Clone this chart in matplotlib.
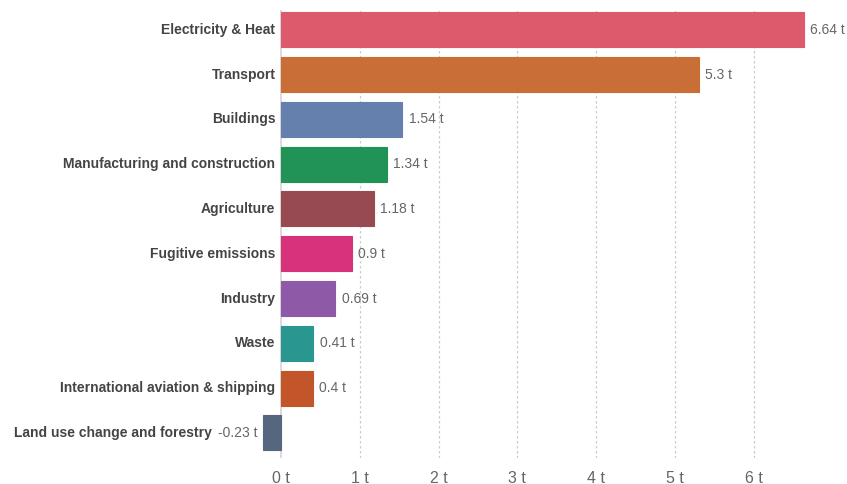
import matplotlib
matplotlib.use("Agg")
import matplotlib.pyplot as plt

sectors = [
    "Electricity & Heat",
    "Transport",
    "Buildings",
    "Manufacturing and construction",
    "Agriculture",
    "Fugitive emissions",
    "Industry",
    "Waste",
    "International aviation & shipping",
    "Land use change and forestry",
]
values = [6.64, 5.3, 1.54, 1.34, 1.18, 0.9, 0.69, 0.41, 0.4, -0.23]
value_labels = ["6.64 t", "5.3 t", "1.54 t", "1.34 t", "1.18 t", "0.9 t", "0.69 t", "0.41 t", "0.4 t", "-0.23 t"]
colors = ["#dc5a6b", "#c96e36", "#6580ac", "#229357", "#984a52",
          "#d7337c", "#8e5aa8", "#29968f", "#c3552a", "#56667f"]
xticks = [0, 1, 2, 3, 4, 5, 6]
xtick_labels = ["0 t", "1 t", "2 t", "3 t", "4 t", "5 t", "6 t"]

plt.rcParams["font.family"] = ["Liberation Sans", "DejaVu Sans"]

fig = plt.figure(figsize=(8.47, 4.84), dpi=100)
ax = fig.add_axes([0.3039, 0.0537, 0.679, 0.9256])

ypos = list(range(len(sectors)))
ax.barh(ypos, values, height=0.78, color=colors, edgecolor=colors, linewidth=0.8, zorder=3)

ax.set_xlim(-0.3, 7.0)
ax.set_ylim(9.56, -0.44)
ax.set_xticks(xticks)
ax.set_xticklabels(xtick_labels, fontsize=11.5, color="#666666")
ax.set_yticks([])
ax.tick_params(axis="x", length=0, pad=9)
for s in ax.spines.values():
    s.set_visible(False)

for t in xticks[1:]:
    ax.axvline(t, color="#cccccc", linestyle=(0, (2, 2)), linewidth=0.9, zorder=1)
ax.axvline(0, color="#d5d5d5", linewidth=1.2, zorder=2)

fig.canvas.draw()
renderer = fig.canvas.get_renderer()

fs = 10
for y, v, lab, name in zip(ypos, values, value_labels, sectors):
    if v >= 0:
        ax.annotate(lab, (v, y), xytext=(4.5, 0), textcoords="offset points",
                    ha="left", va="center", fontsize=fs, color="#666666", annotation_clip=False)
        ax.annotate(name, (0, y), xytext=(-4, 0), textcoords="offset points",
                    ha="right", va="center", fontsize=fs, fontweight="bold", color="#444444")
    else:
        vt = ax.annotate(lab, (v, y), xytext=(-4, 0), textcoords="offset points",
                         ha="right", va="center", fontsize=fs, color="#666666")
        w = vt.get_window_extent(renderer).width * 72 / fig.dpi
        ax.annotate(name, (v, y), xytext=(-4 - w - 4, 0), textcoords="offset points",
                    ha="right", va="center", fontsize=fs, fontweight="bold", color="#444444")

fig.savefig("out.png", dpi=100)
